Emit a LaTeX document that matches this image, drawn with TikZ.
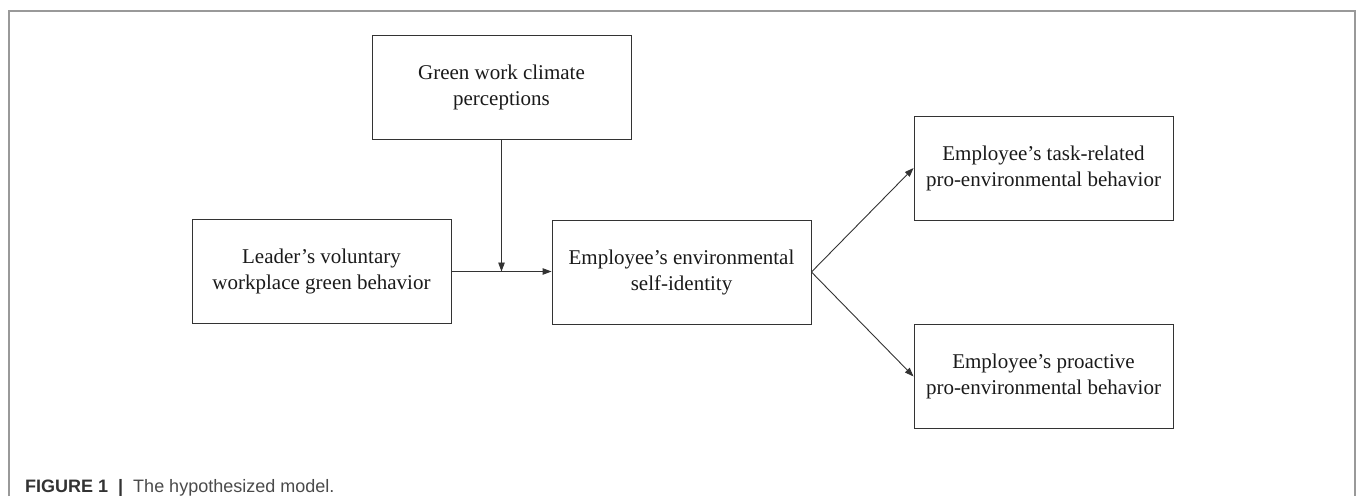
\documentclass[tikz,border=0pt]{standalone}
\usepackage{fontspec}
\setmainfont{Liberation Serif}
\newfontfamily\capfont{Liberation Sans}
\usetikzlibrary{arrows.meta}
\definecolor{boxline}{HTML}{333333}
\definecolor{txt}{HTML}{1A1A1A}
\definecolor{frame}{HTML}{999999}
\definecolor{capc}{HTML}{333333}
\definecolor{capt}{HTML}{4A4A4A}
\tikzset{
  varbox/.style={draw=boxline, line width=0.9pt, rectangle, inner sep=0pt,
    minimum width=259pt, minimum height=104pt, align=center, text=txt,
    font=\fontsize{21}{26}\selectfont},
  conn/.style={draw=boxline, line width=0.9pt, -{Triangle[length=9pt,width=6.5pt]}},
}
\begin{document}
\begin{tikzpicture}[x=1pt,y=-1pt]
\useasboundingbox (0,0) rectangle (1357,496);
\draw[frame, line width=1.3pt] (9,496) -- (9,11) -- (1355,11) -- (1355,496);
\node[varbox] (green) at (501.5,87) {Green work climate\\perceptions};
\node[varbox] (leader) at (321.5,271.5) {Leader’s voluntary\\workplace green behavior};
\node[varbox] (mid) at (681.5,272) {Employee’s environmental\\self-identity};
\node[varbox] (task) at (1043.5,168) {Employee’s task-related\\pro-environmental behavior};
\node[varbox] (proact) at (1043.5,376.5) {Employee’s proactive\\pro-environmental behavior};
\coordinate (m) at (green.south |- leader.east);
\draw[conn] (leader.east) -- (mid.west |- leader.east);
\draw[conn] (green.south) -- (m);
\draw[conn] (mid.east) -- (task.west);
\draw[conn] (mid.east) -- (proact.west);
\node[anchor=base west, inner sep=0pt, font=\capfont\fontsize{18}{20}\selectfont, text=capt] (cap) at (25,492)
  {\textcolor{capc}{\textbf{FIGURE 1}}\hspace{10pt}\textcolor{capc}{\textbf{|}}\hspace{10pt}The hypothesized model.};
\end{tikzpicture}
\end{document}
